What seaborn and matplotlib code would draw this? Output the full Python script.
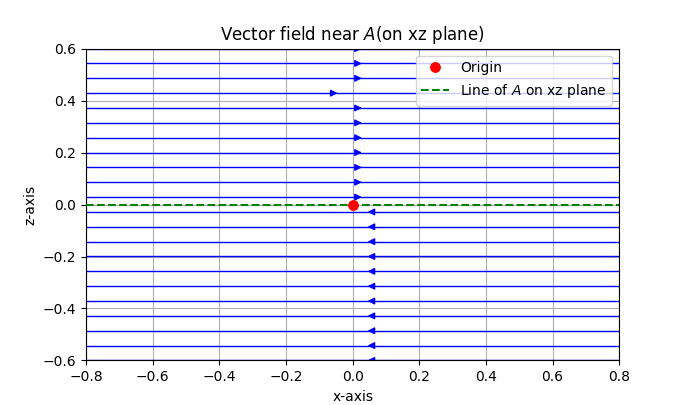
import numpy as np
import pandas as pd
import matplotlib
matplotlib.use("Agg")
import matplotlib.pyplot as plt
import seaborn as sns

# grid of the xz plane
x_vals = np.linspace(-0.8, 0.8, 41)
z_vals = np.linspace(-0.6, 0.6, 41)

# field along x: proportional to z, no z component
X, Z = np.meshgrid(x_vals, z_vals)
U = Z
W = np.zeros_like(Z)

origin = pd.DataFrame({"x": [0.0], "z": [0.0]})
line_a = pd.DataFrame({"x": [-0.8, 0.8], "z": [0.0, 0.0]})

fig, ax = plt.subplots(figsize=(6.88, 4.05), dpi=100)

ax.streamplot(X, Z, U, W, color="blue", density=0.75, linewidth=1, arrowsize=1)

sns.lineplot(data=origin, x="x", y="z", color="red", marker="o", markersize=7,
             markeredgecolor="red", linestyle="", label="Origin", ax=ax, zorder=5)
sns.lineplot(data=line_a, x="x", y="z", color="green", linestyle="--",
             label="Line of $A$ on xz plane", ax=ax, zorder=4)

ax.set_xlim(-0.8, 0.8)
ax.set_ylim(-0.6, 0.6)
ax.set_xlabel("x-axis")
ax.set_ylabel("z-axis")
ax.set_title("Vector field near $A$(on xz plane)")
ax.grid(True)
ax.legend(loc="upper right")

fig.savefig("out.png", dpi=100)
